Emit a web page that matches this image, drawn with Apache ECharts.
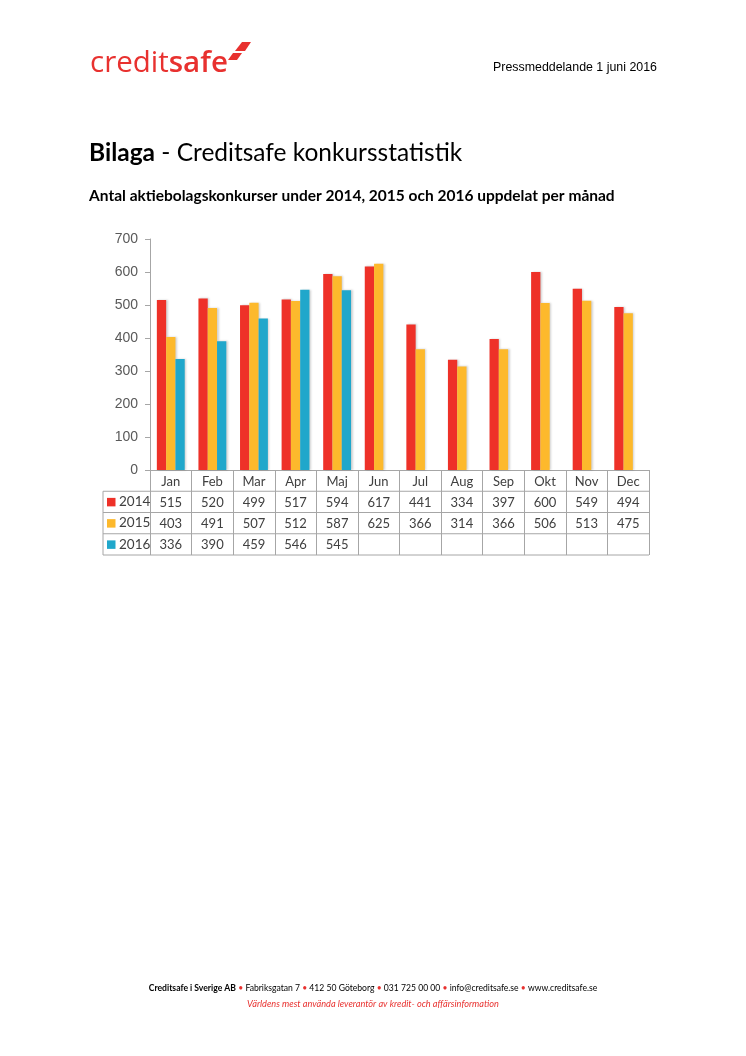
<!DOCTYPE html>
<html><head><meta charset="utf-8">
<script src="https://cdn.jsdelivr.net/npm/echarts@6/dist/echarts.min.js"></script>
<style>html,body{margin:0;padding:0;background:#fff}#c{width:746px;height:1056px}</style>
</head><body><div id="c"></div>
<script>
const months = ['Jan','Feb','Mar','Apr','Maj','Jun','Jul','Aug','Sep','Okt','Nov','Dec'];
const years = ['2014','2015','2016'];
const v2014 = [515,520,499,517,594,617,441,334,397,600,549,494];
const v2015 = [403,491,507,512,587,625,366,314,366,506,513,475];
const v2016 = [336,390,459,546,545,null,null,null,null,null,null,null];
const yTicks = [0,100,200,300,400,500,600,700];
const colors = ['#EE3128','#FDB92C','#20A7CB'];
const seriesVals = [v2014, v2015, v2016];

const chart = echarts.init(document.getElementById('c'), null, {renderer:'canvas'});
const gridLeft = 150, gridRight = 97, gridTop = 239, axisY = 470;
const rowH = 21.25;
const lineCol = '#A6A6A6';
const tableFont = 'Lato, "Open Sans", sans-serif';

const xAxes = [{
  type:'category', data: months, position:'bottom', gridIndex:0,
  axisLine:{show:true, lineStyle:{color:lineCol, width:1}},
  axisTick:{show:true, length: rowH*4, interval:0, lineStyle:{color:lineCol}},
  axisLabel:{interval:0, margin:5, color:'#404040', fontSize:13, fontFamily:tableFont}
}];
seriesVals.forEach((vals,k)=>{
  xAxes.push({
    type:'category', data: months, position:'bottom', gridIndex:0, offset: rowH*(k+1),
    axisLine:{show:false}, axisTick:{show:false},
    axisLabel:{interval:0, margin:5, color:'#404040', fontSize:13, fontFamily:tableFont,
      formatter:(v,i)=> vals[i]==null ? '' : String(vals[i])}
  });
});

const graphics = [];
for (let k=1;k<=4;k++){
  graphics.push({type:'line', shape:{x1:103, y1:axisY+rowH*k, x2:746-gridRight, y2:axisY+rowH*k}, style:{stroke:lineCol, lineWidth:1}, silent:true});
}
graphics.push({type:'line', shape:{x1:103, y1:axisY+rowH, x2:103, y2:axisY+rowH*4}, style:{stroke:lineCol, lineWidth:1}});
years.forEach((y,k)=>{
  const cy = axisY + rowH*(k+1) + rowH/2;
  graphics.push({type:'rect', shape:{x:107, y:cy-4, width:8.5, height:8.5}, style:{fill:colors[k]}});
  graphics.push({type:'text', x:119, y:cy, style:{text:y, fill:'#404040', font:'13.5px '+tableFont, verticalAlign:'middle'}});
});
// logo
graphics.push({type:'text', x:90, y:79, style:{
  text:'{a|credit}{b|safe}', verticalAlign:'bottom',
  rich:{a:{fill:'#E8312F', font:'400 29.5px "Open Sans", Lato, sans-serif'}, b:{fill:'#E8312F', font:'600 29.5px "Open Sans", Lato, sans-serif'}}
}});
graphics.push({type:'polygon', shape:{points:[[242,42],[251,42],[245,51],[235,51]]}, style:{fill:'#E8312F'}});
graphics.push({type:'polygon', shape:{points:[[233,53],[242,53],[237,60],[228,60]]}, style:{fill:'#E8312F'}});
graphics.push({type:'text', x:657, y:68, style:{text:'Pressmeddelande 1 juni 2016', fill:'#000', font:'12.4px "Liberation Sans", Arial, sans-serif', align:'right', verticalAlign:'middle'}});
// title
graphics.push({type:'text', x:89, y:153, style:{
  text:'{b|Bilaga}{n| - Creditsafe konkursstatistik}', verticalAlign:'middle',
  rich:{b:{fill:'#000', font:'bold 24.5px Lato, sans-serif'}, n:{fill:'#000', font:'24.5px Lato, sans-serif'}}
}});
graphics.push({type:'text', x:89, y:196, style:{text:'Antal aktiebolagskonkurser under 2014, 2015 och 2016 uppdelat per månad', fill:'#000', font:'bold 15.5px Lato, sans-serif', verticalAlign:'middle'}});
// footer
graphics.push({type:'text', x:373, y:988, style:{
  text:'{b|Creditsafe i Sverige AB} {r|•} Fabriksgatan 7 {r|•} 412 50 Göteborg {r|•} 031 725 00 00 {r|•} info@creditsafe.se {r|•} www.creditsafe.se',
  align:'center', verticalAlign:'middle', fill:'#000', font:'8.6px Lato, sans-serif',
  rich:{b:{font:'bold 8.6px Lato, sans-serif', fill:'#000'}, r:{fill:'#E8312F', font:'8.6px Lato, sans-serif'}}
}});
graphics.push({type:'text', x:373, y:1004, style:{text:'Världens mest använda leverantör av kredit- och affärsinformation', align:'center', verticalAlign:'middle', fill:'#E8312F', font:'italic 9.2px Lato, sans-serif'}});

chart.setOption({
  backgroundColor:'#fff',
  animation:false,
  grid:{left:gridLeft, right:gridRight, top:gridTop, bottom:1056-axisY, containLabel:false},
  xAxis: xAxes,
  yAxis:{type:'value', min:0, max:700, interval:100,
    axisLine:{show:true, lineStyle:{color:lineCol}},
    axisTick:{show:true, length:5, lineStyle:{color:lineCol}},
    splitLine:{show:false},
    axisLabel:{margin:12, color:'#595959', fontSize:14, fontFamily:'"Liberation Sans", Arial, sans-serif',
      formatter:(v)=> yTicks.includes(v) ? String(v) : ''}
  },
  series: seriesVals.map((vals,k)=>({
    name: years[k], type:'bar', xAxisIndex:0, data: vals,
    barGap:'0%', barCategoryGap:'33%',
    itemStyle:{color:colors[k], shadowColor:'rgba(0,0,0,0.18)', shadowBlur:2, shadowOffsetX:1.5, shadowOffsetY:0}
  })),
  graphic: graphics
});
</script></body></html>
